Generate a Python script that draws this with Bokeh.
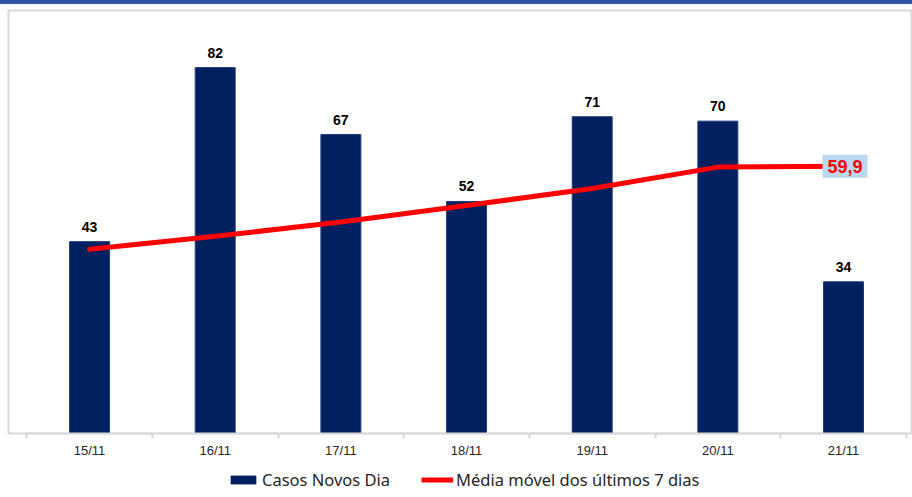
from bokeh.plotting import figure
from bokeh.layouts import column
from bokeh.core.properties import value
from bokeh.models import (ColumnDataSource, LabelSet, Label, Legend, LegendItem,
                          FixedTicker, Range1d, Div)
from bokeh.embed import file_html
from bokeh.resources import INLINE

# ---- data ----
dates = ["15/11", "16/11", "17/11", "18/11", "19/11", "20/11", "21/11"]
casos = [43, 82, 67, 52, 71, 70, 34]
media = [41.3, 44.2, 47.4, 51.1, 54.9, 59.7, 59.9]
series_names = ["Casos Novos Dia", "Média móvel dos últimos 7 dias"]

BAR_COLOR = "#002060"
LINE_COLOR = "#ff0000"
W = 912

xs = list(range(len(dates)))
src = ColumnDataSource(data=dict(x=xs, casos=casos, media=media,
                                 lab=[str(v) for v in casos]))

# thin blue stripe at the very top
stripe = Div(text="", width=W, height=4, margin=(0, 0, 0, 0),
             styles={"background-color": "#2f56a3", "padding": "0px", "margin": "0px"})

p = figure(width=W, height=458, output_backend="svg", toolbar_location=None,
           x_range=Range1d(-0.645, 6.549), y_range=Range1d(0, 94.8),
           y_axis_location=None, min_border_left=8, min_border_right=0,
           min_border_top=6, min_border_bottom=29)
p.grid.visible = False
p.outline_line_color = "#d9d9d9"
p.outline_line_width = 2
p.background_fill_color = "white"
p.border_fill_color = "white"

bars = p.vbar(x="x", top="casos", width=0.318, source=src,
              fill_color=BAR_COLOR, line_color="#1f3c7a", line_width=1)
line = p.line(x="x", y="media", source=src, line_color=LINE_COLOR,
              line_width=5, line_cap="round", line_join="round")

labels = LabelSet(x="x", y="casos", text="lab", source=src,
                  text_align="center", text_baseline="alphabetic", y_offset=10,
                  text_font=value("Liberation Sans"), text_font_style="bold",
                  text_font_size="14px", text_color="#000000")
p.add_layout(labels)

last = Label(x=xs[-1], y=media[-1], text=f"{media[-1]:.1f}".replace(".", ","),
             x_offset=-21, y_offset=0, text_align="left", text_baseline="middle",
             text_font="Liberation Sans", text_font_style="bold",
             text_font_size="18px", text_color=LINE_COLOR,
             background_fill_color="#bdd7ee", padding=5)
p.add_layout(last)

ax = p.xaxis[0]
ax.ticker = FixedTicker(ticks=xs, minor_ticks=[i - 0.5 for i in range(len(dates) + 1)])
ax.major_label_overrides = {i: d for i, d in enumerate(dates)}
ax.bounds = (-0.5, len(dates) - 0.5)
ax.axis_line_color = "#d9d9d9"
ax.axis_line_width = 2
ax.major_tick_line_color = None
ax.major_tick_out = 0
ax.major_tick_in = 0
ax.minor_tick_line_color = "#d9d9d9"
ax.minor_tick_line_width = 2
ax.minor_tick_out = 5
ax.minor_tick_in = 0
ax.major_label_standoff = 4
ax.major_label_text_font = "Liberation Sans"
ax.major_label_text_font_size = "13px"
ax.major_label_text_color = "#262626"

# legend strip below the chart
lg = figure(width=W, height=35, output_backend="svg", toolbar_location=None,
            x_range=Range1d(0, 1), y_range=Range1d(0, 1),
            x_axis_location=None, y_axis_location=None,
            min_border_left=0, min_border_right=0, min_border_top=0, min_border_bottom=0)
lg.grid.visible = False
lg.outline_line_color = None
nan = float("nan")
dummy = ColumnDataSource(data=dict(x=[nan], y=[nan]))
lbar = lg.vbar(x="x", top="y", width=0.1, source=dummy, fill_color=BAR_COLOR, line_color=None)
lline = lg.line(x="x", y="y", source=dummy, line_color=LINE_COLOR, line_width=5)

legend = Legend(items=[LegendItem(label=series_names[0], renderers=[lbar]),
                       LegendItem(label=series_names[1], renderers=[lline])],
                orientation="horizontal", location=(219, 6),
                label_text_font="Noto Sans", label_text_font_size="16.5px",
                label_text_color="#262626", glyph_width=32, glyph_height=11,
                label_standoff=3, spacing=31, padding=2, margin=0,
                border_line_color=None, background_fill_alpha=0)
lg.add_layout(legend)

layout = column(stripe, p, lg, spacing=0)
open("out.html", "w").write(file_html(layout, INLINE))
